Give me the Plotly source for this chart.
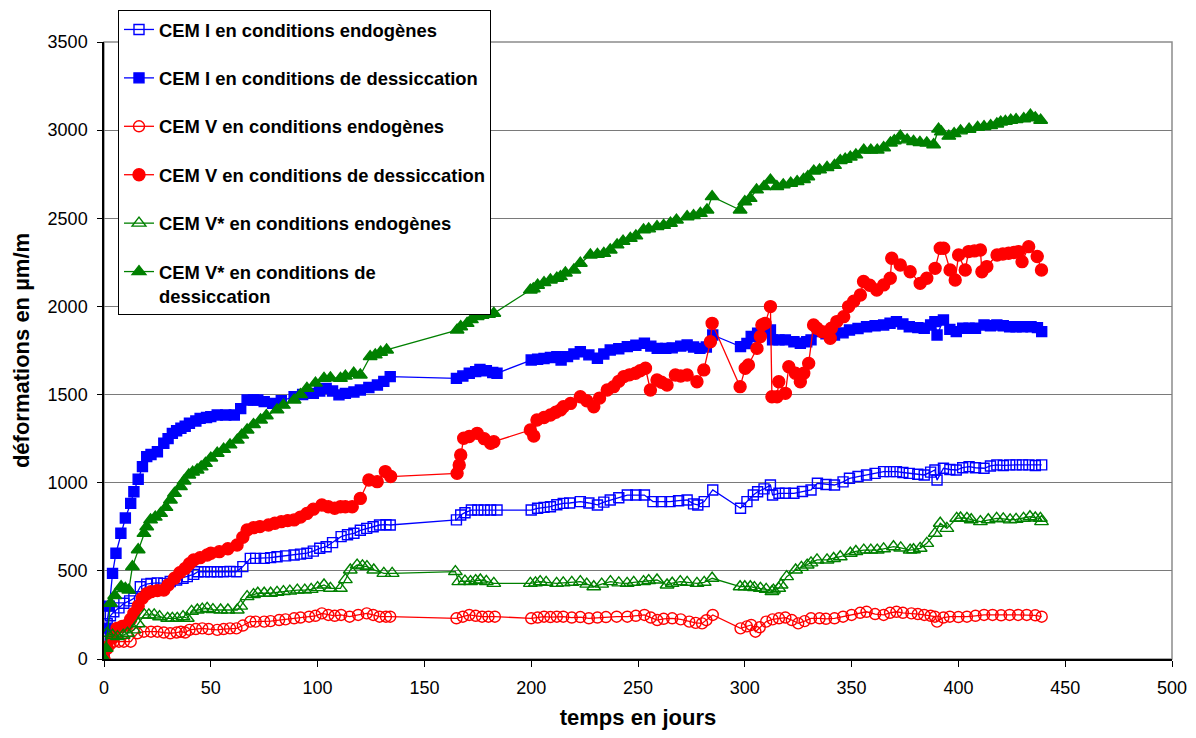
import plotly.graph_objects as go

FONT = "Liberation Sans, Arial, sans-serif"

# ---------------- data (days, deformation in µm/m) ----------------
days_cem1_endo = [0,1.5,3,4.6,7,9.3,12,14,17,20,22,25,28,31,34,37,39,42,44,47,50,53,56,59,62,65,68.5,71,75,78,81,85,89,92,95,98,101,104,107,111,114,117,120,123,126,129,132,134,
    165,167,169,172,175,178,181,184,
    200,203,206,209,212,215,218,223,227,231,234,237,241,245,249,253,257,261,265,269,273,276,278,281,285,
    298,301,304,306,309,312,313,316,319,323,327,331,334,338,342,346,349,353,357,361,365,368,371,374,377,381,384,387,389,390,393,396,399,402,405,408,412,415,418,421,424,427,430,433,436,439]
vals_cem1_endo = [0,200,245,268,290,316,330,344,410,425,429,432,429,440,448,458,467,480,495,495,495,495,495,497,495,524,571,571,571,575,580,585,590,595,600,612,628,637,660,694,705,713,730,741,750,760,762,760,
    789,817,830,845,845,845,845,845,
    845,855,860,864,875,883,885,893,885,874,890,902,915,930,930,930,893,893,893,898,902,880,874,893,959,
    855,893,930,949,965,987,930,940,940,940,950,959,997,990,987,1005,1025,1035,1044,1053,1063,1063,1063,1058,1053,1048,1044,1060,1072,1015,1082,1075,1072,1085,1091,1085,1082,1095,1101,1098,1101,1101,1101,1101,1098,1101]

days_cem1_dess = [0,1,2.5,4,5.6,7.9,10,12.5,14,16,18,20,22,25,28,30,32,34,36,38,40,43,45,48,50,53,57,61,64,67,70,72,75,79,83,89,93,98,101,104,107,110,113,117,120,124,128,131,134,
    165,168,171,174,176,179,182,184,
    200,203,206,209,212,214,217,220,223,227,231,234,237,241,245,249,253,256,259,263,266,270,273,276,279,282,285,
    298,301,303,306,309,312,313,316,319,323,326,329,331,334,338,342,346,349,353,357,361,365,368,371,374,377,381,384,387,389,390,393,396,399,402,405,408,412,415,418,421,424,427,430,434,437,439]
vals_cem1_dess = [0,175,300,486,600,713,800,883,949,1020,1091,1148,1160,1176,1224,1250,1280,1295,1309,1320,1337,1350,1365,1370,1375,1384,1384,1384,1420,1469,1469,1469,1460,1450,1465,1488,1500,1507,1520,1535,1520,1498,1507,1515,1526,1540,1554,1575,1602,
    1592,1605,1621,1630,1643,1635,1625,1621,
    1696,1700,1705,1710,1715,1696,1715,1730,1743,1725,1706,1730,1753,1760,1772,1780,1791,1775,1762,1762,1765,1775,1781,1770,1762,1770,1838,
    1772,1790,1829,1848,1866,1866,1810,1810,1810,1800,1791,1800,1810,1857,1845,1838,1850,1866,1875,1885,1890,1895,1905,1914,1900,1885,1880,1876,1895,1914,1838,1923,1870,1857,1876,1876,1876,1895,1890,1895,1890,1885,1885,1885,1885,1880,1857]

days_cem5_endo = [0,1.5,3,4.6,7,9.3,12.5,15.6,18.7,22,25,28,31,34,36,38,40,43,46,49,53,56,59,62,65,68.5,71,75,78,82,85,89,92,96,99,102,105,108,111,115,119,123,126,129,132,134,
    165,168,171,174,177,180,183,
    200,203,206,209,212,215,219,223,227,231,235,240,245,249,253,256,259,262,266,270,274,277,280,282,285,
    298,301,303,305,307,310,313,316,319,322,325,328,331,335,338,342,346,350,354,357,361,365,368,371,374,378,381,384,387,389,390,393,396,400,404,408,412,416,420,424,428,432,436,439]
vals_cem5_endo = [0,70,85,98,98,98,98,146,155,155,155,150,146,150,155,150,165,170,174,170,165,170,174,174,190,212,212,212,215,221,225,231,235,240,245,259,250,245,250,240,250,259,250,240,240,240,
    231,240,250,245,240,240,240,
    231,235,240,238,240,240,235,238,231,235,238,240,240,245,250,235,221,228,231,225,212,205,202,220,250,
    174,185,193,155,180,212,225,231,235,221,202,215,231,231,228,231,240,250,262,268,255,250,262,268,262,259,255,250,245,240,212,235,240,238,240,245,250,250,248,250,250,250,248,240]

days_cem5_dess = [0,1.5,4,6.1,8.5,10.8,12.5,14,16,17.9,20,22,25,28,30,33,35.5,38,40,42,45,48.3,50,54,58,62.3,65,67,70,73,77,80,83,86,89,92,95,98,102,105,108,110.7,113,116.2,120,124,127.9,131.7,134.2,
    165.3,166.3,167,168.4,171,174.7,178,181,182.5,
    199.6,201.2,202.7,206,209,211.5,213.7,215.1,218.4,223,226,229.3,232,235.6,238.6,241,243.4,246,248.8,251,253.5,255.8,258.9,261,263.6,267.5,270,273,277.6,280.8,283.9,284.7,
    297.8,300.2,301.7,305.7,307.3,308,309.5,312,312.7,315.1,315.9,319,320.6,323.7,326,327.6,329.9,332.2,333.8,336.2,340,340.5,343.1,346.3,348.6,351,354.1,355.6,358.5,361.8,365,368.1,368.8,372.8,377.4,382.1,385.2,389.1,391.5,393.1,396.1,398.5,400.1,403.2,404.8,407.5,410.3,411,413.3,418.1,420.8,423.5,426,428.2,429.8,432.9,436.9,438.9]
vals_cem5_dess = [0,61,120,174,185,193,225,259,300,344,370,382,388,391,420,458,490,514,540,562,575,590,600,609,625,647,690,732,745,751,760,770,779,785,789,805,826,850,874,864,855,864,864,864,911,1015,1006,1063,1035,
    1053,1101,1157,1252,1262,1280,1250,1224,1233,
    1299,1265,1356,1370,1384,1400,1413,1431,1450,1488,1465,1431,1480,1526,1545,1575,1602,1612,1621,1635,1649,1526,1583,1570,1554,1611,1605,1611,1573,1640,1800,1904,
    1545,1649,1668,1762,1829,1895,1904,1999,1488,1488,1573,1507,1658,1621,1573,1621,1677,1895,1876,1857,1819,1876,1914,1942,1999,2030,2065,2141,2120,2093,2122,2160,2273,2235,2197,2131,2160,2216,2330,2330,2207,2150,2292,2207,2311,2315,2320,2197,2226,2292,2297,2302,2306,2311,2254,2339,2283,2207]

days_cem5s_endo = [0,1.5,4,6.3,9,11,14,16,18.9,21,23.5,26,29.8,32,34.3,37,39,41,43.7,46,48.3,51,54.6,58,62.4,64,67,70,72,75,78,81,84,87,90.5,94,97,100,103,106,110.7,113,115.3,118.5,121,123.1,126.3,131,134.9,
    164.5,166.1,169,171.6,174,176.2,179,182.5,
    199.6,202,204.2,207,211.9,215,219,223,226,229.3,233,237.1,241,244.9,248,252.6,255,258.9,263.6,266,269.8,273,277.6,281,284.7,
    297.8,300,302.6,304.5,307.3,310,312.7,313.4,315.9,317,319.6,323.8,326.5,329.2,331,333.8,338.5,341.6,344.7,349.4,352,355.7,359,362,365,369.6,373,377.4,379,382.1,385.2,389.1,391.5,394.6,399.2,401,404,406,410.3,414,417.9,421,424.2,427,430.5,433.5,436,438.4,438.9]
vals_cem5s_endo = [0,146,135,127,135,146,165,200,250,250,250,240,231,231,231,240,231,270,278,283,287,280,278,278,278,300,354,365,373,373,373,378,382,385,391,391,395,405,420,401,401,450,505,533,528,524,505,486,486,
    496,439,442,439,445,448,440,429,
    429,432,439,435,429,432,435,439,425,410,425,439,432,429,435,439,445,448,420,430,439,435,429,435,458,
    410,410,410,405,401,395,382,391,401,420,467,505,520,533,545,562,562,570,580,600,610,618,618,618,625,637,630,618,620,628,656,713,770,741,798,800,798,790,779,790,798,795,789,792,798,807,800,798,779]

days_cem5s_dess = [0,1,3,5,8,10,11.6,13.3,16,18.7,20,21.8,24,26.5,29,31.1,33,35.8,37.5,39.7,41.5,43.6,45.5,47.5,50,53,56,59,62.4,64.5,67,70,73.3,76,81,84,89,92,95,99,103,106,110.7,113,116.9,120,124.6,127,129.5,132.3,
    165.3,167,170,172,174.7,177,180,182.5,
    199.6,201,203,206,209,212,213.7,216,220,223,227.7,231,234,237,240.2,243,246.4,249,252.6,255,258.9,262,265.2,268,273,276,279.2,282.3,284.7,
    297.8,300,302.5,305.5,309,312,315,318,321.5,324.5,327.5,329.5,332.3,335,338.5,342,344.7,347,349.4,352,355.7,359,362,365,368.2,370,372.8,376,379,382,385.2,388.4,390.7,392,395.5,398,401,405,409,412,415.1,418,419.8,422,424.5,427,430.6,433.7,436,438.5]
vals_cem5s_dess = [0,60,316,360,410,400,391,524,620,713,750,789,805,826,860,902,940,978,1010,1044,1060,1072,1090,1110,1140,1167,1190,1215,1242,1270,1299,1330,1356,1380,1413,1440,1469,1500,1535,1565,1592,1595,1592,1605,1621,1611,1715,1725,1740,1753,
    1866,1885,1904,1925,1942,1950,1955,1961,
    2093,2100,2120,2135,2150,2160,2169,2190,2207,2245,2292,2295,2301,2320,2349,2370,2386,2400,2434,2440,2453,2460,2472,2490,2509,2515,2528,2547,2623,
    2547,2594,2613,2661,2680,2717,2680,2690,2699,2708,2720,2736,2768,2775,2788,2800,2827,2835,2847,2860,2887,2887,2887,2900,2927,2940,2966,2945,2936,2930,2927,2917,3006,2990,2966,2980,2996,3005,3016,3020,3026,3035,3046,3050,3056,3060,3065,3085,3070,3056]

series_names = [
    "CEM I en conditions endogènes",
    "CEM I en conditions de dessiccation",
    "CEM V en conditions endogènes",
    "CEM V en conditions de dessiccation",
    "CEM V* en conditions endogènes",
    "CEM V* en conditions de<br>dessiccation",
]
x_ticks = [0, 50, 100, 150, 200, 250, 300, 350, 400, 450, 500]
y_ticks = [0, 500, 1000, 1500, 2000, 2500, 3000, 3500]

# ---------------- styles ----------------
BLUE, RED, GREEN = "#0000FF", "#FF0000", "#008000"
styles = [
    (BLUE, "square-open", 10),
    (BLUE, "square", 10),
    (RED, "circle-open", 11),
    (RED, "circle", 12),
    (GREEN, "triangle-up-open", 12),
    (GREEN, "triangle-up", 12),
]
data = [
    (days_cem1_endo, vals_cem1_endo),
    (days_cem1_dess, vals_cem1_dess),
    (days_cem5_endo, vals_cem5_endo),
    (days_cem5_dess, vals_cem5_dess),
    (days_cem5s_endo, vals_cem5s_endo),
    (days_cem5s_dess, vals_cem5s_dess),
]

fig = go.Figure()
for i, ((xs, ys), name, (col, sym, sz)) in enumerate(zip(data, series_names, styles)):
    assert len(xs) == len(ys), (name, len(xs), len(ys))
    fig.add_trace(go.Scatter(
        x=xs, y=ys, mode="lines+markers", name=name, legendgroup=f"g{i}",
        line=dict(color=col, width=1.3),
        marker=dict(symbol=sym, size=sz, color=col, line=dict(color=col, width=1.4)),
    ))

# page has an 8px body margin: figure is placed at (8, 8) in the window
OFF = 8
W, H = 1196 - OFF, 738 - OFF
L, R, T, B = 104 - OFF, 1172 - OFF, 42 - OFF, 659 - OFF   # plot area in figure coords
LEG_X, LEG_Y = 118 - OFF, 10 - OFF

fig.update_layout(
    width=W, height=H,
    margin=dict(l=L, r=W - R, t=T, b=H - B, pad=0, autoexpand=False),
    paper_bgcolor="white", plot_bgcolor="white",
    font=dict(family=FONT, color="black"),
    showlegend=True,
    legend=dict(
        x=(LEG_X - L) / (R - L), y=(B - LEG_Y) / (B - T), xanchor="left", yanchor="top",
        bgcolor="white", bordercolor="black", borderwidth=1,
        font=dict(family=FONT, size=18.4, color="black", weight="bold"),
        traceorder="grouped", tracegroupgap=21.5, itemwidth=30, valign="top",
    ),
    xaxis=dict(
        range=[0, 500], tickmode="array", tickvals=x_ticks,
        ticks="outside", ticklen=6, tickwidth=1, tickcolor="black",
        showline=True, linecolor="black", linewidth=1.5,
        showgrid=False, zeroline=False,
        tickfont=dict(size=18, family=FONT), ticklabelstandoff=6,
        title=dict(text="temps en jours", font=dict(size=22, family=FONT, weight="bold"), standoff=12),
    ),
    yaxis=dict(
        range=[0, 3500], tickmode="array", tickvals=y_ticks,
        ticks="outside", ticklen=5, tickwidth=1, tickcolor="black",
        showline=True, linecolor="black", linewidth=1.5,
        showgrid=True, gridcolor="#7a7a7a", gridwidth=1.3, zeroline=False,
        tickfont=dict(size=18, family=FONT), ticklabelstandoff=6,
        title=dict(text="déformations en µm/m", font=dict(size=22, family=FONT, weight="bold"), standoff=12),
    ),
    shapes=[dict(type="rect", xref="paper", yref="paper", x0=0, x1=1, y0=0, y1=1,
                 line=dict(color="#8c8c8c", width=1.5), layer="below")],
)

fig.write_html("out.html")
